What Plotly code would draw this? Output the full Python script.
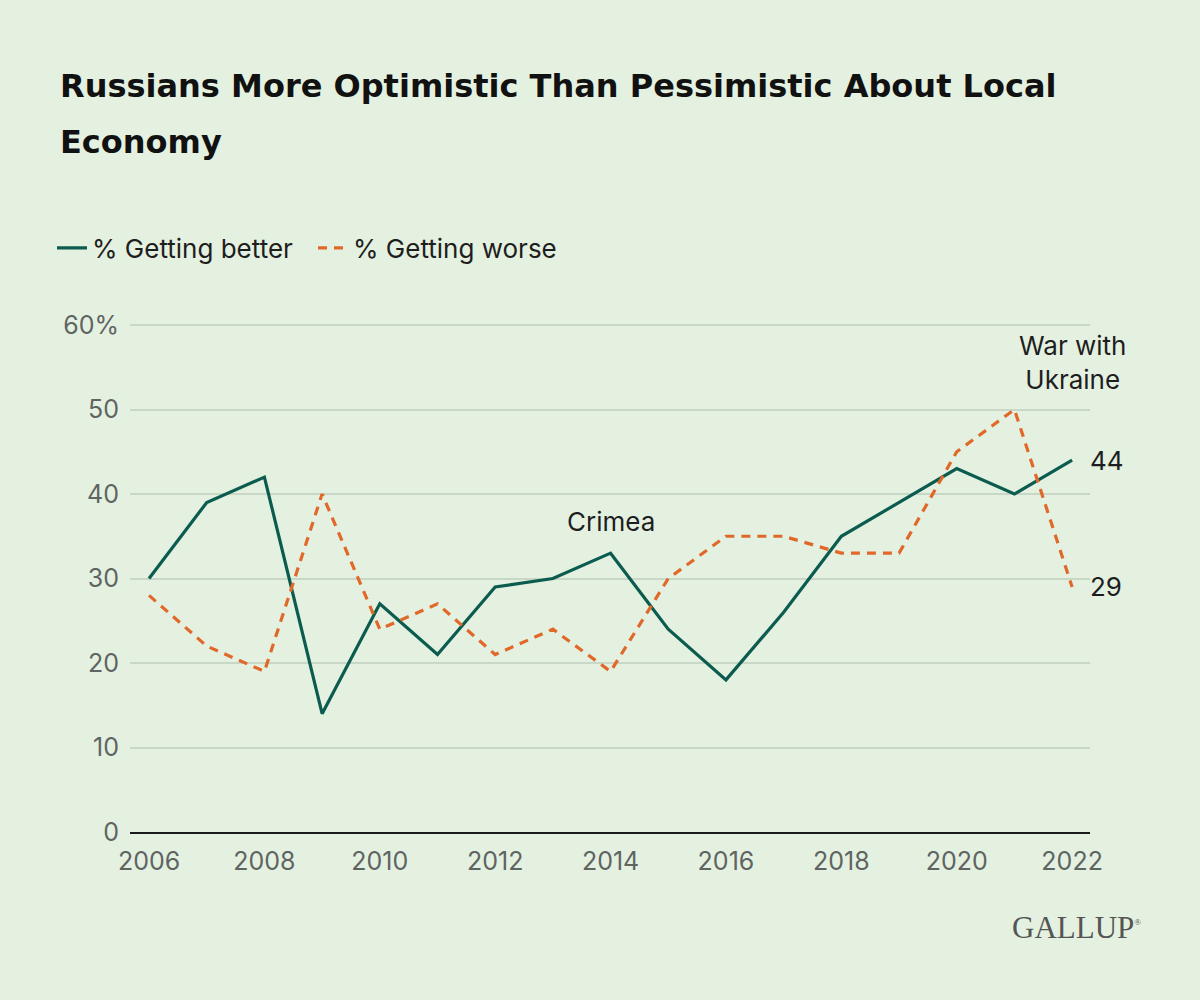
import plotly.graph_objects as go

years = list(range(2006, 2023))
better = [30, 39, 42, 14, 27, 21, 29, 30, 33, 24, 18, 26, 35, 39, 43, 40, 44]
worse = [28, 22, 19, 40, 24, 27, 21, 24, 19, 30, 35, 35, 33, 33, 45, 50, 29]
y_ticks = [0, 10, 20, 30, 40, 50, 60]
y_ticktext = ["0", "10", "20", "30", "40", "50", "60%"]
x_ticks = list(range(2006, 2023, 2))

BG = "#E4F1E1"
GREEN = "#0B5C4F"
ORANGE = "#E0692A"
TEXT = "#1E1E1E"
GREY = "#5F6461"
FONT = "Inter, Roboto, sans-serif"
TITLE_FONT = "DejaVu Sans, sans-serif"

L, R, T, B = 130, 110, 324, 168
PH = 1000 - T - B
PW = 1200 - L - R


def px_x(x):
    return (x - L) / PW


def px_y(y):
    return (1000 - B - y) / PH


fig = go.Figure()
fig.add_trace(go.Scatter(x=years, y=better, mode="lines", name="% Getting better",
                         line=dict(color=GREEN, width=3.2)))
fig.add_trace(go.Scatter(x=years, y=worse, mode="lines", name="% Getting worse",
                         line=dict(color=ORANGE, width=3.2, dash="9px,7px")))

fig.update_layout(
    width=1200, height=1000,
    paper_bgcolor=BG, plot_bgcolor=BG,
    margin=dict(l=L, r=R, t=T, b=B),
    font=dict(family=FONT, color=TEXT),
    showlegend=True,
    legend=dict(orientation="h", x=px_x(52), xanchor="left", y=px_y(248), yanchor="middle",
                font=dict(size=26, color=TEXT, family=FONT), bgcolor="rgba(0,0,0,0)",
                itemwidth=30, traceorder="normal", entrywidth=216, entrywidthmode="pixels"),
    xaxis=dict(range=[2005.67, 2022.31], tickvals=x_ticks, ticktext=[str(v) for v in x_ticks],
               showgrid=False, zeroline=False, showline=True, linecolor="#1a1a1a", linewidth=2,
               ticks="", tickfont=dict(size=25, color=GREY, family=FONT), ticklabelstandoff=6),
    yaxis=dict(range=[0, 60.12], tickvals=y_ticks, ticktext=y_ticktext,
               showgrid=True, gridcolor="#C8D7C6", gridwidth=2, zeroline=False,
               ticks="", tickfont=dict(size=25, color=GREY, family=FONT), ticklabelstandoff=10),
)

# Title (two lines as separate annotations for line spacing)
fig.add_annotation(text="<b>Russians More Optimistic Than Pessimistic About Local</b>",
                   xref="paper", yref="paper", x=px_x(58), y=px_y(86),
                   xanchor="left", yanchor="middle", showarrow=False,
                   font=dict(size=32, color="#111111", family=TITLE_FONT))
fig.add_annotation(text="<b>Economy</b>",
                   xref="paper", yref="paper", x=px_x(58), y=px_y(142), xanchor="left", yanchor="middle",
                   showarrow=False, font=dict(size=32, color="#111111", family=TITLE_FONT))

# Data labels and event annotations
fig.add_annotation(x=years[-1], y=better[-1], text=str(better[-1]), showarrow=False,
                   xanchor="left", xshift=16, font=dict(size=26, color=TEXT, family=FONT))
fig.add_annotation(x=years[-1], y=worse[-1], text=str(worse[-1]), showarrow=False,
                   xanchor="left", xshift=16, font=dict(size=26, color=TEXT, family=FONT))
fig.add_annotation(x=2014, y=36.8, text="Crimea", showarrow=False,
                   font=dict(size=26, color=TEXT, family=FONT))
fig.add_annotation(x=2022, y=55.6, text="War with<br>Ukraine", showarrow=False,
                   font=dict(size=26, color=TEXT, family=FONT))

# Logo
fig.add_annotation(text="GALLUP<sup><span style='font-size:9px'>®</span></sup>", xref="paper", yref="paper",
                   x=px_x(1143), y=px_y(927), xanchor="right", yanchor="middle",
                   showarrow=False, font=dict(size=31, color="#555555",
                                              family="Liberation Serif, DejaVu Serif, serif"))

fig.write_html("out.html", config={"displayModeBar": False},
               post_script="document.body.style.margin='0';")
